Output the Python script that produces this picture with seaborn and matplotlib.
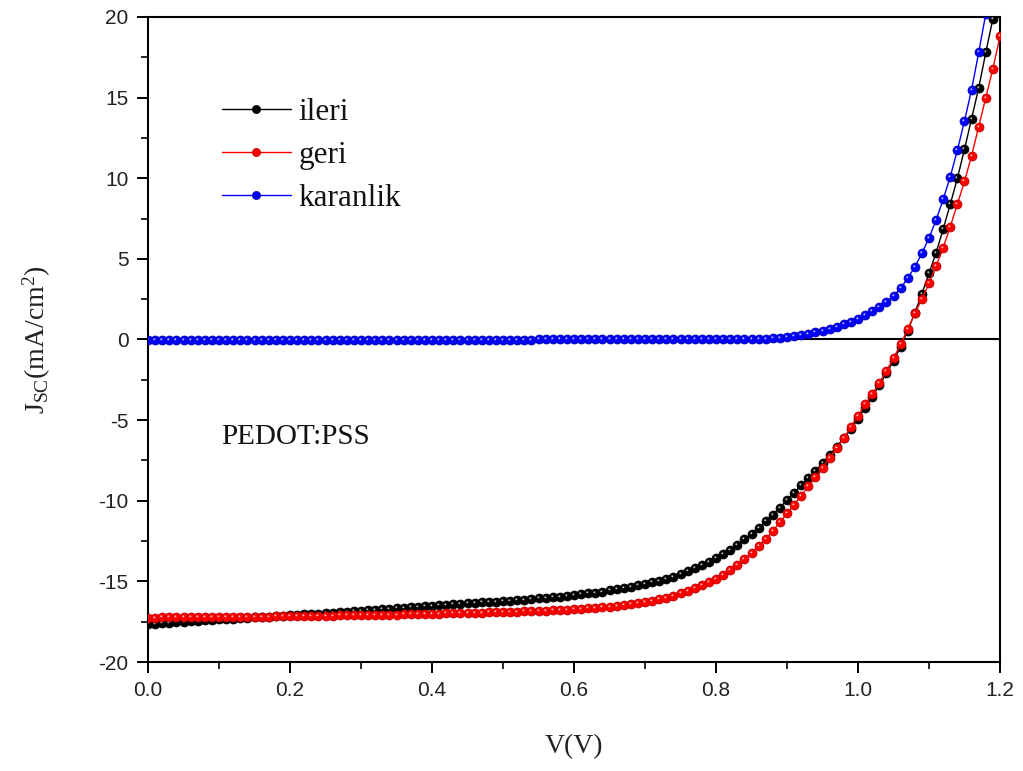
import matplotlib
matplotlib.use("Agg")
import numpy as np
import pandas as pd
import seaborn as sns
import matplotlib.pyplot as plt
from matplotlib.path import Path
from matplotlib.markers import MarkerStyle
from matplotlib.lines import Line2D
from matplotlib.ticker import MultipleLocator, FormatStrFormatter

# ---------------- data ----------------
voltage = [
    0.00, 0.01, 0.02, 0.03, 0.04, 0.05, 0.06, 0.07, 0.08, 0.09,
    0.10, 0.11, 0.12, 0.13, 0.14, 0.15, 0.16, 0.17, 0.18, 0.19,
    0.20, 0.21, 0.22, 0.23, 0.24, 0.25, 0.26, 0.27, 0.28, 0.29,
    0.30, 0.31, 0.32, 0.33, 0.34, 0.35, 0.36, 0.37, 0.38, 0.39,
    0.40, 0.41, 0.42, 0.43, 0.44, 0.45, 0.46, 0.47, 0.48, 0.49,
    0.50, 0.51, 0.52, 0.53, 0.54, 0.55, 0.56, 0.57, 0.58, 0.59,
    0.60, 0.61, 0.62, 0.63, 0.64, 0.65, 0.66, 0.67, 0.68, 0.69,
    0.70, 0.71, 0.72, 0.73, 0.74, 0.75, 0.76, 0.77, 0.78, 0.79,
    0.80, 0.81, 0.82, 0.83, 0.84, 0.85, 0.86, 0.87, 0.88, 0.89,
    0.90, 0.91, 0.92, 0.93, 0.94, 0.95, 0.96, 0.97, 0.98, 0.99,
    1.00, 1.01, 1.02, 1.03, 1.04, 1.05, 1.06, 1.07, 1.08, 1.09,
    1.10, 1.11, 1.12, 1.13, 1.14, 1.15, 1.16, 1.17, 1.18, 1.19,
    1.20,
]

ileri = [
    -17.65, -17.62, -17.60, -17.57, -17.54, -17.51, -17.48, -17.45, -17.42, -17.39,
    -17.36, -17.34, -17.31, -17.28, -17.25, -17.23, -17.20, -17.18, -17.15, -17.12,
    -17.10, -17.07, -17.05, -17.02, -17.00, -16.97, -16.94, -16.91, -16.88, -16.85,
    -16.82, -16.79, -16.76, -16.73, -16.70, -16.67, -16.64, -16.61, -16.58, -16.55,
    -16.52, -16.49, -16.46, -16.43, -16.40, -16.37, -16.34, -16.31, -16.28, -16.25,
    -16.22, -16.19, -16.16, -16.13, -16.09, -16.06, -16.02, -15.98, -15.94, -15.90,
    -15.85, -15.80, -15.75, -15.69, -15.63, -15.56, -15.49, -15.42, -15.34, -15.25,
    -15.16, -15.06, -14.95, -14.83, -14.70, -14.55, -14.38, -14.20, -14.00, -13.78,
    -13.55, -13.30, -13.03, -12.73, -12.40, -12.05, -11.68, -11.28, -10.86, -10.42,
    -9.96, -9.50, -9.05, -8.60, -8.15, -7.66, -7.16, -6.64, -6.10, -5.55,
    -4.90, -4.22, -3.54, -2.84, -2.10, -1.32, -0.48, 0.55, 1.65, 2.85,
    4.10, 5.38, 6.85, 8.40, 10.00, 11.80, 13.70, 15.60, 17.80, 19.90,
    22.20,
]

geri = [
    -17.25, -17.25, -17.24, -17.24, -17.23, -17.23, -17.23, -17.22, -17.22, -17.22,
    -17.21, -17.21, -17.20, -17.20, -17.19, -17.19, -17.18, -17.18, -17.17, -17.16,
    -17.15, -17.15, -17.14, -17.14, -17.13, -17.13, -17.12, -17.11, -17.11, -17.10,
    -17.09, -17.09, -17.08, -17.07, -17.06, -17.06, -17.05, -17.04, -17.03, -17.02,
    -17.01, -17.00, -16.99, -16.98, -16.97, -16.96, -16.95, -16.94, -16.93, -16.92,
    -16.90, -16.89, -16.88, -16.86, -16.85, -16.83, -16.81, -16.79, -16.77, -16.75,
    -16.72, -16.70, -16.67, -16.64, -16.60, -16.56, -16.52, -16.47, -16.42, -16.36,
    -16.30, -16.22, -16.12, -16.01, -15.88, -15.74, -15.59, -15.42, -15.24, -15.05,
    -14.85, -14.59, -14.30, -13.98, -13.63, -13.25, -12.83, -12.37, -11.87, -11.34,
    -10.79, -10.24, -9.68, -9.11, -8.53, -7.94, -7.34, -6.74, -6.13, -5.41,
    -4.72, -4.02, -3.38, -2.68, -1.95, -1.15, -0.30, 0.63, 1.62, 2.50,
    3.48, 4.56, 5.70, 7.00, 8.40, 9.80, 11.40, 13.20, 15.00, 16.80,
    18.80,
]

karanlik = [
    -0.02, -0.02, -0.02, -0.02, -0.02, -0.02, -0.02, -0.02, -0.02, -0.02,
    -0.02, -0.02, -0.02, -0.02, -0.02, -0.02, -0.02, -0.02, -0.02, -0.02,
    -0.02, -0.02, -0.02, -0.02, -0.01, -0.01, -0.01, -0.01, -0.01, -0.01,
    -0.01, -0.01, -0.01, -0.01, -0.01, -0.01, -0.01, -0.01, -0.01, -0.01,
    -0.01, -0.01, -0.01, -0.01, -0.01, -0.01, -0.01, -0.01, -0.01, -0.01,
    -0.01, -0.01, -0.01, -0.01, -0.01, 0.00, 0.00, 0.00, 0.00, 0.00,
    0.00, 0.00, 0.00, 0.00, 0.00, 0.00, 0.00, 0.00, 0.00, 0.00,
    0.00, 0.00, 0.00, 0.00, 0.00, 0.00, 0.01, 0.01, 0.01, 0.01,
    0.01, 0.01, 0.02, 0.02, 0.02, 0.03, 0.04, 0.05, 0.08, 0.12,
    0.17, 0.23, 0.29, 0.37, 0.45, 0.55, 0.65, 0.79, 0.94, 1.10,
    1.30, 1.52, 1.75, 2.02, 2.32, 2.70, 3.18, 3.80, 4.50, 5.35,
    6.30, 7.40, 8.70, 10.10, 11.75, 13.55, 15.50, 17.80, 20.20, 22.80,
    25.60,
]

series_names = ["ileri", "geri", "karanlik"]
series_colors = ["#000000", "#ff0000", "#0000ff"]
edge_colors = ["#000000", "#b00000", "#0000a0"]
x_ticks = [0.0, 0.2, 0.4, 0.6, 0.8, 1.0, 1.2]
y_ticks = [-20, -15, -10, -5, 0, 5, 10, 15, 20]
x_label = "V(V)"
y_label = "J$_{SC}$(mA/cm$^{2}$)"
annotation = "PEDOT:PSS"

# ---------------- styling ----------------
sns.set_style("ticks")
plt.rcParams["font.family"] = ["Liberation Sans", "DejaVu Sans"]
plt.rcParams["axes.unicode_minus"] = False
plt.rcParams["mathtext.default"] = "regular"

W, H = 1023, 771
fig = plt.figure(figsize=(W / 100, H / 100), dpi=100)
ax = fig.add_axes([148 / W, 1 - 662 / H, 852 / W, 645 / H])

# specular highlight marker (small white dot, upper-left of each ball)
hl_path = Path.make_compound_path(
    Path([(-0.5, -0.5)], [Path.MOVETO]),
    Path([(0.5, 0.5)], [Path.MOVETO]),
    Path.circle(center=(-0.13, 0.13), radius=0.11),
)
hl_marker = MarkerStyle(hl_path)

MS = 6.5
data_series = [ileri, geri, karanlik]

# zero line
ax.axhline(0, color="black", lw=1.5, zorder=1)

handles = []
for name, vals, col, ec in zip(series_names, data_series, series_colors, edge_colors):
    df = pd.DataFrame({"V": voltage, "J": vals})
    sns.lineplot(data=df, x="V", y="J", ax=ax, color=col, linewidth=1.0,
                 marker="o", markersize=MS, markerfacecolor=col,
                 markeredgecolor=ec, markeredgewidth=0.5, sort=False,
                 legend=False, zorder=3)
    sns.lineplot(data=df, x="V", y="J", ax=ax, color="white", linestyle="",
                 marker=hl_marker, markersize=MS, markerfacecolor="white",
                 markeredgewidth=0, alpha=0.75, sort=False, legend=False,
                 zorder=3)
    handles.append(Line2D([0], [0], color=col, lw=1.0, marker="o",
                          markersize=MS * 0.9, markerfacecolor=col,
                          markeredgecolor=ec, markeredgewidth=0.5))

ax.set_xlim(0, 1.2)
ax.set_ylim(-20, 20)
ax.set_xticks(x_ticks)
ax.set_yticks(y_ticks)
ax.xaxis.set_minor_locator(MultipleLocator(0.1))
ax.yaxis.set_minor_locator(MultipleLocator(2.5))
ax.xaxis.set_major_formatter(FormatStrFormatter("%.1f"))
ax.yaxis.set_major_formatter(FormatStrFormatter("%d"))

for s in ax.spines.values():
    s.set_visible(True)
    s.set_linewidth(1.5)
    s.set_color("black")

ax.tick_params(which="major", direction="out", length=8, width=1.4,
               labelsize=15, pad=6, colors="black", top=False, right=False)
ax.tick_params(which="minor", direction="out", length=5, width=1.4,
               top=False, right=False)
for lab in ax.get_xticklabels() + ax.get_yticklabels():
    lab.set_color("#222222")

serif = ["Liberation Serif", "DejaVu Serif"]
ax.set_xlabel(x_label, fontsize=20, family=serif, color="#222222")
ax.set_ylabel(y_label, fontsize=20, family=serif, color="#222222")
ax.xaxis.set_label_coords(0.5, -0.112)
ax.yaxis.set_label_coords(-0.112, 0.5)

ax.text(0.103, -6.05, annotation, fontsize=21, family=serif,
        color="#111111", ha="left", va="center")

leg = ax.legend(handles, series_names, loc="upper left",
                bbox_to_anchor=(0.087, 0.874), frameon=False,
                prop={"family": serif, "size": 22.5},
                handlelength=2.2, handletextpad=0.25, labelspacing=0.45,
                borderpad=0, borderaxespad=0)
for t in leg.get_texts():
    t.set_color("#111111")

fig.savefig("out.png", dpi=100, facecolor="white")
